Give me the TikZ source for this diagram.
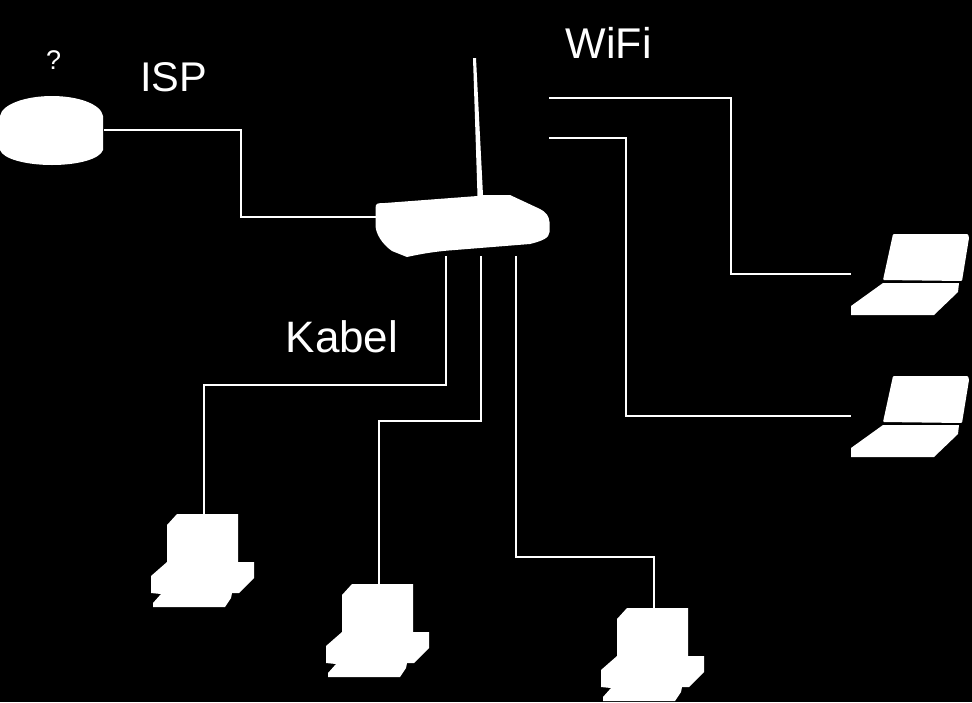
\documentclass[tikz,border=0pt]{standalone}
\usepackage{fontspec}
\setmainfont{Liberation Sans}
\tikzset{
  link/.style={draw=white,line width=2pt,line join=miter},
  bigtext/.style={text=white,anchor=base west,inner sep=0pt},
  smalltext/.style={text=white,font=\fontsize{27}{27}\selectfont,anchor=base west,inner sep=0pt},
  pics/laptop/.style={code={
    \fill[white,rounded corners=1pt] (893,234) -- (968,234) -- (969,238) -- (962,281) -- (883,280) -- cycle;
    \fill[white] (883,283) -- (959,283) -- (958,292) -- (934,315) -- (851,315) -- (851,306) -- cycle;
  }},
  pics/desktop/.style={code={
    \fill[white] (177,514) -- (238,514) -- (238,562) -- (254,562) -- (254,578) -- (239,593) -- (232,593) -- (231,598) -- (225,607) -- (153,607) -- (153,603) -- (161,594) -- (151,593) -- (151,576) -- (167,562) -- (167,525) -- cycle;
  }}
}
\begin{document}
\begin{tikzpicture}[x=1pt,y=-1pt]
\fill[black] (0,0) rectangle (972,702);
\useasboundingbox (0,0) rectangle (972,702);
% ports
\coordinate (diskport) at (104,130);
\coordinate (routerwest) at (377,217);
\coordinate (wifiA) at (549,97.5);
\coordinate (wifiB) at (549,137.5);
\coordinate (lapA) at (851,273.5);
\coordinate (lapB) at (851,416);
\coordinate (cabA) at (445.5,256);
\coordinate (cabB) at (480.5,256);
\coordinate (cabC) at (515.5,256);
\coordinate (pcA) at (204,516);
\coordinate (pcB) at (379,585);
\coordinate (pcC) at (654,610);
% disk
\fill[white] (0,116) .. controls (2,104) and (26,96) .. (52,96) .. controls (78,96) and (101,104) .. (103,116) -- (103,150) .. controls (100,159) and (78,165) .. (52,165) .. controls (26,165) and (3,159) .. (0,150) -- cycle;
% router
\fill[white,line join=round] (476,58) -- (473,58) -- (477.5,196) -- (385,203) .. controls (378,203) and (375.5,203) .. (375.5,208) -- (375.5,226) .. controls (376,234) and (382,244) .. (392,251) -- (407,257) .. controls (425,253) and (440,251) .. (455,250) -- (530,244) .. controls (542,241) and (549.5,238) .. (549.5,232) -- (549.5,222) .. controls (549,216) and (546,212) .. (540,209) -- (510,195) -- (483,195) -- cycle;
% links
\draw[link] (diskport) -| (240.5,217) -- (routerwest);
\draw[link] (wifiA) -| (730.5,273.5) -- (lapA);
\draw[link] (wifiB) -| (625.5,416) -- (lapB);
\draw[link] (cabA) |- (203.5,385) -- (203.5,516);
\draw[link] (cabB) |- (378.5,421) -- (378.5,585);
\draw[link] (cabC) |- (653.5,557) -- (653.5,610);
% devices
\pic {laptop};
\pic[yshift=-142pt] {laptop};
\pic {desktop};
\pic[xshift=175pt,yshift=-70pt] {desktop};
\pic[xshift=450pt,yshift=-94pt] {desktop};
% labels
\node[smalltext] (qm) at (46,69) {?};
\node[bigtext,font=\fontsize{41.5}{42}\selectfont] (isp) at (140,91) {ISP};
\node[bigtext,font=\fontsize{43}{42}\selectfont] (wifi) at (565.5,58) {WiFi};
\node[bigtext,font=\fontsize{44}{42}\selectfont] (kabel) at (285.5,352) {Kabel};
\end{tikzpicture}
\end{document}
